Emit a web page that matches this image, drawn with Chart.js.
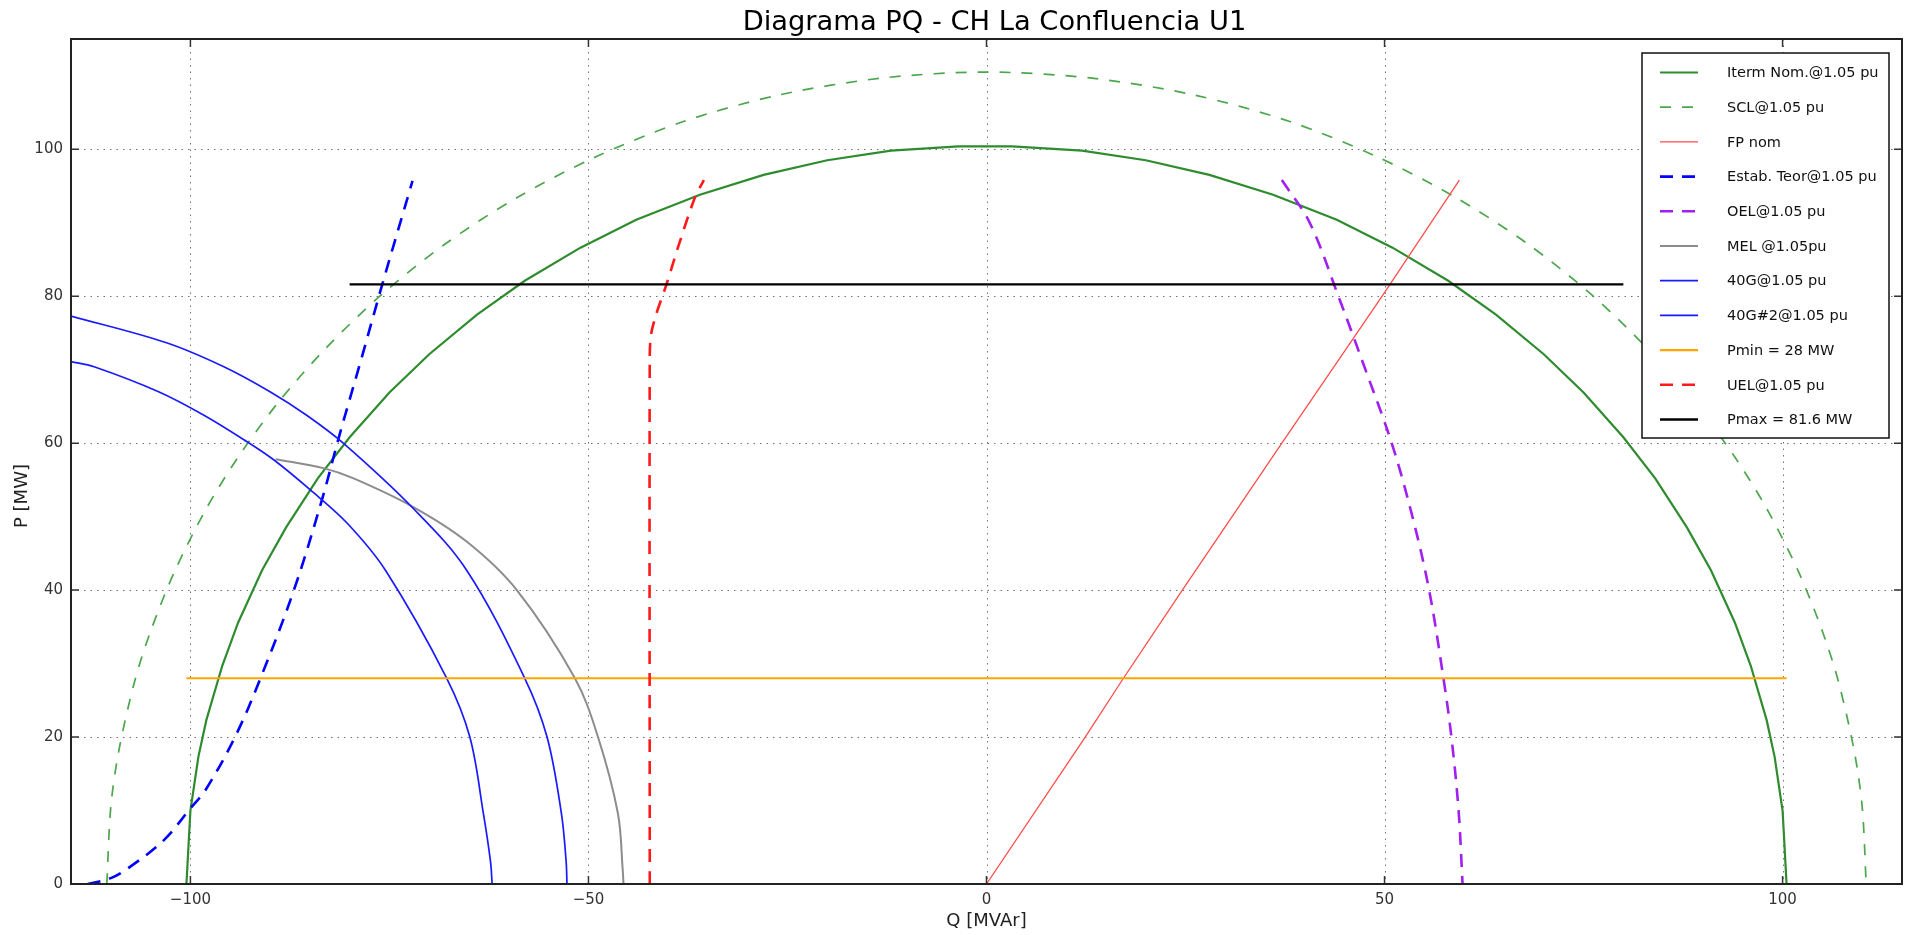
<!DOCTYPE html>
<html>
<head>
<meta charset="utf-8">
<script src="https://cdn.jsdelivr.net/npm/chart.js@4/dist/chart.umd.min.js"></script>
<style>
html,body{margin:0;padding:0;background:#fff;}
#wrap{width:1906px;height:935px;}
</style>
</head>
<body>
<div id="wrap"><canvas id="c" width="1906" height="935"></canvas></div>
<script>
// ---- Data (Q in MVAr, P in MW) ----
const xTicks = [-100, -50, 0, 50, 100];
const yTicks = [0, 20, 40, 60, 80, 100];

const qIterm = [-100.5,-100,-99,-98,-96,-94,-91,-88,-84,-80,-75,-70,-64,-58,-51,-44,-36,-28,-20,-12,-3.5,3.2,12,20,28,36,44,51,58,64,70,75,80,84,88,91,94,96,98,99,100,100.5];
const pIterm = [0,10.0,17.3,22.3,29.7,35.6,42.7,48.5,55.2,60.8,66.9,72.1,77.5,82.1,86.6,90.4,93.8,96.5,98.5,99.8,100.4,100.4,99.8,98.5,96.5,93.8,90.4,86.6,82.1,77.5,72.1,66.9,60.8,55.2,48.5,42.7,35.6,29.7,22.3,17.3,10.0,0];

const qSCL = [-110.5,-110,-109,-107,-105,-102,-98,-94,-89,-83,-76,-68,-59,-49,-38,-26,-13,0,13,26,38,49,59,68,76,83,89,94,98,102,105,107,109,110,110.5];
const pSCL = [0,10.5,18.1,27.6,34.4,42.5,51.1,58.1,65.5,72.9,80.2,87.1,93.4,99.0,103.8,107.4,109.7,110.5,109.7,107.4,103.8,99.0,93.4,87.1,80.2,72.9,65.5,58.1,51.1,42.5,34.4,27.6,18.1,10.5,0];

const qFP = [0, 12.4, 17.2, 24.6, 37.1, 49.7, 59.4];
const pFP = [0, 20, 28, 40, 60, 80, 95.8];

const qEstab = [-112.9,-110.0,-107.5,-103.3,-100,-98.1,-94.4,-91.2,-87.0,-83.5,-81.3,-78.6,-75.9,-72.1];
const pEstab = [0,0.8,2.4,6.0,10.3,12.8,20,28,40,52.2,61,71.2,81.6,95.7];

const qOEL = [37.1, 40.6, 44.2, 47.6, 50.9, 53.5, 55.6, 57.4, 58.4, 59.3, 59.8];
const pOEL = [95.8, 90, 80, 70, 60, 50, 40, 28, 20, 10, 0];

const qMEL = [-89.3,-83.3,-79.5,-72.0,-65.3,-59.0,-51.7,-48.8,-46.3,-45.7,-45.6];
const pMEL = [57.8,56.6,55.2,51.3,46.6,40,28,20,9.6,2,0];

const q40G = [-115,-103.1,-95.8,-90.0,-85.4,-80.8,-72.0,-65.3,-58.0,-55.2,-53.4,-52.8,-52.7];
const p40G = [77.3,73.7,70.4,67.0,63.8,60.0,51.1,42.7,28,20,9.6,3,0];

const q40G2 = [-115,-112.1,-104.0,-98.3,-92.9,-89.5,-84.9,-80.3,-75.5,-67.8,-64.9,-63.2,-62.3,-62.1];
const p40G2 = [71.1,70.4,67.0,63.8,60.2,57.7,53.6,49.1,42.7,28,20,9.6,3,0];

const qPmin = [-100.5, 100.5];
const pPmin = [28, 28];

const qUEL = [-42.3,-42.3,-42.1,-41.5,-40.2,-38.5,-36.6,-35.5];
const pUEL = [0,72,75,77.5,81.6,87.5,93.5,95.8];

const qPmax = [-80, 80];
const pPmax = [81.6, 81.6];

const labels = ['Iterm Nom.@1.05 pu','SCL@1.05 pu','FP nom','Estab. Teor@1.05 pu','OEL@1.05 pu','MEL @1.05pu','40G@1.05 pu','40G#2@1.05 pu','Pmin = 28 MW','UEL@1.05 pu','Pmax = 81.6 MW'];

// ---- Build datasets ----
function pts(q, p){ return q.map((v,i)=>({x:v, y:p[i]})); }
const styles = [
  {q:qIterm,p:pIterm,color:'#2e8b2e',w:2.2,dash:[],t:0},
  {q:qSCL,p:pSCL,color:'#4ca64c',w:1.7,dash:[11,11],t:0.3},
  {q:qFP,p:pFP,color:'#ff4d4d',w:1.3,dash:[],t:0},
  {q:qEstab,p:pEstab,color:'#0000ff',w:2.6,dash:[13,9],t:0.35},
  {q:qOEL,p:pOEL,color:'#a020f0',w:2.6,dash:[13,9],t:0.35},
  {q:qMEL,p:pMEL,color:'#8c8c8c',w:2,dash:[],t:0.35},
  {q:q40G,p:p40G,color:'#1a1aff',w:1.7,dash:[],t:0.35},
  {q:q40G2,p:p40G2,color:'#1a1aff',w:1.7,dash:[],t:0.35},
  {q:qPmin,p:pPmin,color:'#ffa500',w:2.2,dash:[],t:0},
  {q:qUEL,p:pUEL,color:'#ff1a1a',w:2.6,dash:[13,9],t:0.3},
  {q:qPmax,p:pPmax,color:'#000000',w:2.4,dash:[],t:0}
];
const N = styles.length;
const datasets = styles.map((s,i)=>({
  label: labels[i],
  data: pts(s.q, s.p),
  showLine: true,
  borderColor: s.color,
  backgroundColor: s.color,
  borderWidth: s.w,
  borderDash: s.dash,
  pointRadius: 0,
  pointHoverRadius: 0,
  tension: s.t,
  fill: false,
  order: N - i
}));

const FONT = 'DejaVu Sans';
function fmt(v){ return v < 0 ? '\u2212' + Math.abs(v) : String(v); }

const decor = {
  id: 'decor',
  beforeDatasetsDraw(chart){
    const {ctx, chartArea:a, scales:{x,y}} = chart;
    ctx.save();
    ctx.strokeStyle = 'rgba(0,0,0,0.55)';
    ctx.lineWidth = 1;
    ctx.setLineDash([1.5,5]);
    xTicks.forEach(v=>{ const px = Math.round(x.getPixelForValue(v))+0.5; ctx.beginPath(); ctx.moveTo(px,a.top); ctx.lineTo(px,a.bottom); ctx.stroke(); });
    yTicks.forEach(v=>{ const py = Math.round(y.getPixelForValue(v))+0.5; ctx.beginPath(); ctx.moveTo(a.left,py); ctx.lineTo(a.right,py); ctx.stroke(); });
    ctx.restore();
  },
  afterDatasetsDraw(chart){
    const {ctx, chartArea:a, scales:{x,y}} = chart;
    ctx.save();
    ctx.setLineDash([]);
    ctx.strokeStyle = '#333';
    ctx.lineWidth = 1.5;
    const L = 8;
    xTicks.forEach(v=>{ const px = x.getPixelForValue(v); ctx.beginPath(); ctx.moveTo(px,a.bottom); ctx.lineTo(px,a.bottom-L); ctx.moveTo(px,a.top); ctx.lineTo(px,a.top+L); ctx.stroke(); });
    yTicks.forEach(v=>{ const py = y.getPixelForValue(v); ctx.beginPath(); ctx.moveTo(a.left,py); ctx.lineTo(a.left+L,py); ctx.moveTo(a.right,py); ctx.lineTo(a.right-L,py); ctx.stroke(); });
    ctx.strokeStyle = '#222';
    ctx.lineWidth = 2;
    ctx.strokeRect(a.left, a.top, a.right-a.left, a.bottom-a.top);
    ctx.restore();
  },
  afterDraw(chart){
    const {ctx, chartArea:a} = chart;
    ctx.save();
    // title
    ctx.fillStyle = '#000';
    ctx.font = '27.3px "' + FONT + '"';
    ctx.textAlign = 'center';
    ctx.textBaseline = 'alphabetic';
    ctx.fillText('Diagrama PQ - CH La Confluencia U1', (a.left+a.right)/2 + 8, 30);
    // y axis title
    ctx.save();
    ctx.translate(22, 496);
    ctx.rotate(-Math.PI/2);
    ctx.font = '18px "' + FONT + '"';
    ctx.fillStyle = '#222';
    ctx.textAlign = 'center';
    ctx.textBaseline = 'middle';
    ctx.fillText('P [MW]', 0, 0);
    ctx.restore();
    // legend
    const bx = a.right - 260, by = a.top + 14, bw = 247, bh = 385;
    ctx.fillStyle = '#fff';
    ctx.fillRect(bx, by, bw, bh);
    ctx.strokeStyle = '#111';
    ctx.lineWidth = 1.5;
    ctx.strokeRect(bx, by, bw, bh);
    ctx.font = '14.5px "' + FONT + '"';
    ctx.textAlign = 'left';
    ctx.textBaseline = 'middle';
    chart.data.datasets.forEach((d,i)=>{
      const ry = by + 19.5 + i*34.7;
      ctx.strokeStyle = d.borderColor;
      ctx.lineWidth = d.borderWidth;
      ctx.setLineDash(d.borderDash);
      ctx.beginPath(); ctx.moveTo(bx+18, ry); ctx.lineTo(bx+56, ry); ctx.stroke();
      ctx.setLineDash([]);
      ctx.fillStyle = '#111';
      ctx.fillText(d.label, bx+85, ry+1);
    });
    ctx.restore();
  }
};

new Chart(document.getElementById('c'), {
  type: 'scatter',
  data: { datasets },
  options: {
    responsive: false,
    animation: false,
    events: [],
    layout: { padding: { top: 39, right: 4, left: 0, bottom: 0 } },
    scales: {
      x: {
        type: 'linear', min: -115, max: 115,
        afterFit(s){ s.height = 51; },
        afterBuildTicks(s){ s.ticks = xTicks.map(v=>({value:v})); },
        grid: { display: false, drawTicks: false },
        border: { display: false },
        ticks: { font: { family: FONT, size: 15 }, color: '#333', padding: 7, maxRotation: 0, autoSkip: false, callback: v => fmt(v) },
        title: { display: true, text: 'Q [MVAr]', font: { family: FONT, size: 18 }, color: '#222', padding: { top: 0, bottom: 3 } }
      },
      y: {
        type: 'linear', min: 0, max: 115,
        afterFit(s){ s.width = 71; },
        afterBuildTicks(s){ s.ticks = yTicks.map(v=>({value:v})); },
        grid: { display: false, drawTicks: false },
        border: { display: false },
        ticks: { font: { family: FONT, size: 15 }, color: '#333', padding: 8, autoSkip: false, callback: v => fmt(v) },
        title: { display: false }
      }
    },
    plugins: { legend: { display: false }, tooltip: { enabled: false }, title: { display: false } }
  },
  plugins: [decor]
});
</script>
</body>
</html>
